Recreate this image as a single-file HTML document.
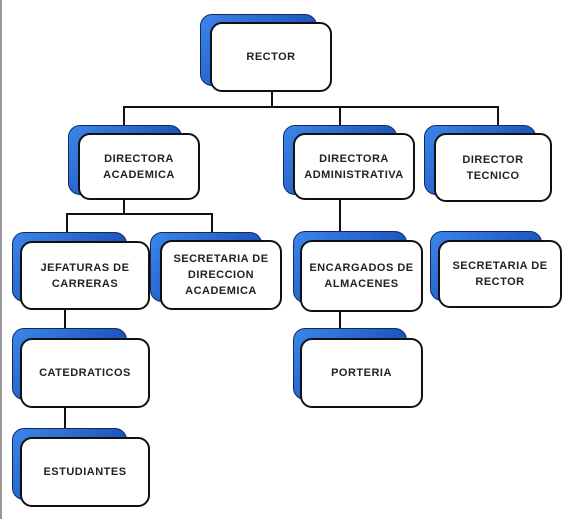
<!DOCTYPE html>
<html><head><style>
body{margin:0;width:570px;height:519px;background:#fff;position:relative;overflow:hidden;font-family:"Liberation Sans",sans-serif}
.b{position:absolute;border-radius:12px;background:linear-gradient(135deg,#3d86ea,#1f58c0 60%,#173f8a);border:1px solid #0d2a66}
.f{position:absolute;border-radius:12px;background:#fff;border:2px solid #111;box-sizing:border-box;display:flex;align-items:center;justify-content:center;text-align:center;font-size:11px;font-weight:bold;color:#222;letter-spacing:0.5px;line-height:16px}
.l{position:absolute;background:#111}
</style></head><body>
<div style="position:absolute;left:0;top:0;width:2px;height:519px;background:#999"></div>
<!-- lines -->
<div class="l" style="left:271px;top:90px;width:2px;height:18px"></div>
<div class="l" style="left:123px;top:106px;width:376px;height:2px"></div>
<div class="l" style="left:123px;top:106px;width:2px;height:28px"></div>
<div class="l" style="left:339px;top:106px;width:2px;height:28px"></div>
<div class="l" style="left:497px;top:106px;width:2px;height:28px"></div>
<div class="l" style="left:123px;top:198px;width:2px;height:17px"></div>
<div class="l" style="left:66px;top:213px;width:147px;height:2px"></div>
<div class="l" style="left:66px;top:213px;width:2px;height:28px"></div>
<div class="l" style="left:211px;top:213px;width:2px;height:28px"></div>
<div class="l" style="left:339px;top:198px;width:2px;height:42px"></div>
<div class="l" style="left:64px;top:308px;width:2px;height:32px"></div>
<div class="l" style="left:339px;top:308px;width:2px;height:32px"></div>
<div class="l" style="left:64px;top:406px;width:2px;height:32px"></div>

<div class="b" style="left:200px;top:14px;width:115px;height:70px"></div>
<div class="f" style="left:210px;top:22px;width:122px;height:70px">RECTOR</div>

<div class="b" style="left:68px;top:125px;width:112px;height:68px"></div>
<div class="f" style="left:78px;top:133px;width:122px;height:67px">DIRECTORA<br>ACADEMICA</div>

<div class="b" style="left:283px;top:125px;width:112px;height:68px"></div>
<div class="f" style="left:293px;top:133px;width:122px;height:67px">DIRECTORA<br>ADMINISTRATIVA</div>

<div class="b" style="left:424px;top:125px;width:110px;height:68px"></div>
<div class="f" style="left:434px;top:133px;width:118px;height:69px">DIRECTOR<br>TECNICO</div>

<div class="b" style="left:12px;top:232px;width:113px;height:68px"></div>
<div class="f" style="left:20px;top:241px;width:130px;height:69px">JEFATURAS DE<br>CARRERAS</div>

<div class="b" style="left:150px;top:232px;width:110px;height:68px"></div>
<div class="f" style="left:160px;top:240px;width:122px;height:70px">SECRETARIA DE<br>DIRECCION<br>ACADEMICA</div>

<div class="b" style="left:293px;top:231px;width:112px;height:70px"></div>
<div class="f" style="left:300px;top:240px;width:123px;height:72px">ENCARGADOS DE<br>ALMACENES</div>

<div class="b" style="left:430px;top:231px;width:110px;height:68px"></div>
<div class="f" style="left:438px;top:240px;width:124px;height:68px">SECRETARIA DE<br>RECTOR</div>

<div class="b" style="left:12px;top:328px;width:113px;height:70px"></div>
<div class="f" style="left:20px;top:338px;width:130px;height:70px">CATEDRATICOS</div>

<div class="b" style="left:293px;top:328px;width:112px;height:70px"></div>
<div class="f" style="left:300px;top:338px;width:123px;height:70px">PORTERIA</div>

<div class="b" style="left:12px;top:428px;width:113px;height:70px"></div>
<div class="f" style="left:20px;top:437px;width:130px;height:70px">ESTUDIANTES</div>
</body></html>
